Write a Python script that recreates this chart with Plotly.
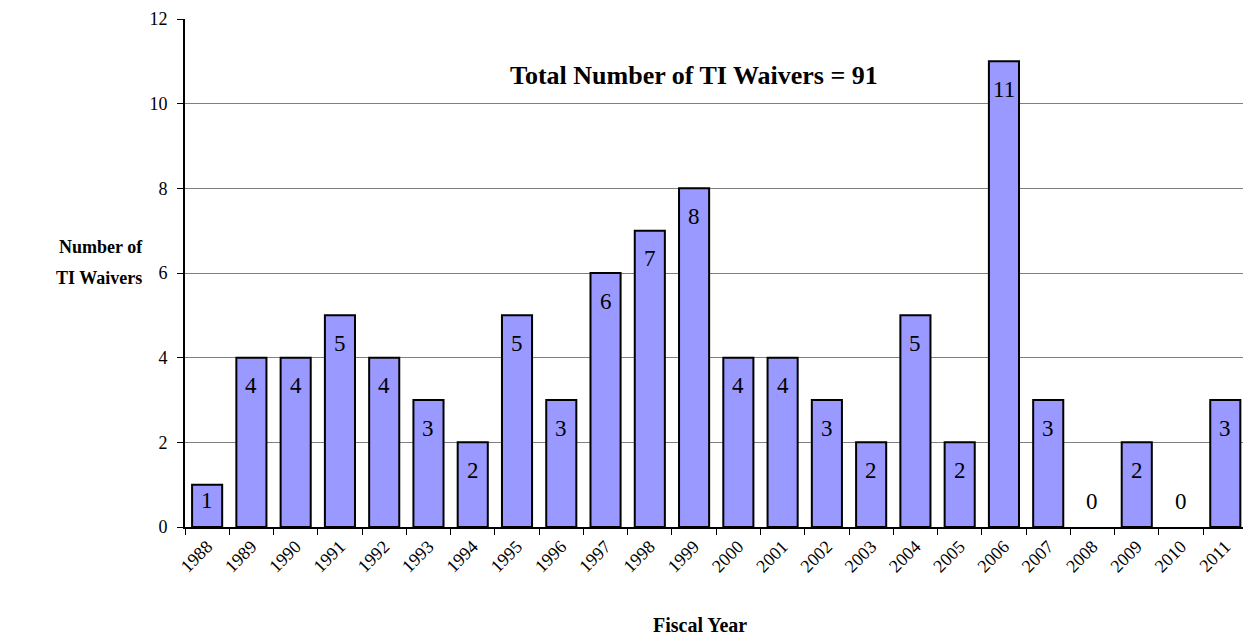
import plotly.graph_objects as go

years = [str(y) for y in range(1988, 2012)]
waivers = [1, 4, 4, 5, 4, 3, 2, 5, 3, 6, 7, 8, 4, 4, 3, 2, 5, 2, 11, 3, 0, 2, 0, 3]
y_ticks = [0, 2, 4, 6, 8, 10, 12]

FONT = "Liberation Serif, Times New Roman, serif"

fig = go.Figure()
fig.add_trace(go.Bar(
    x=years, y=waivers, width=0.68,
    marker=dict(color="#9999FF",
                line=dict(color="black", width=[2 if v > 0 else 0 for v in waivers])),
    hoverinfo="x+y",
))

for i, v in enumerate(waivers):
    if v == 0:
        shift = 26
    elif v == 1:
        shift = -16
    else:
        shift = -28
    fig.add_annotation(x=i, y=v, yshift=shift, text=str(v), showarrow=False,
                       font=dict(family=FONT, size=23, color="black"))

fig.add_annotation(xref="paper", yref="paper", x=0.4815, y=0.888,
                   xanchor="center", yanchor="middle",
                   text="<b>Total Number of TI Waivers = 91</b>", showarrow=False,
                   font=dict(family=FONT, size=26, color="black"))
fig.add_annotation(xref="paper", yref="paper", x=-0.0794, y=0.551,
                   xanchor="center", yanchor="middle",
                   text="<b>Number of</b>", showarrow=False,
                   font=dict(family=FONT, size=18, color="black"))
fig.add_annotation(xref="paper", yref="paper", x=-0.0813, y=0.490,
                   xanchor="center", yanchor="middle",
                   text="<b>TI Waivers</b>", showarrow=False,
                   font=dict(family=FONT, size=18, color="black"))
fig.add_annotation(xref="paper", yref="paper", x=0.487, y=-0.193,
                   xanchor="center", yanchor="middle",
                   text="<b>Fiscal Year</b>", showarrow=False,
                   font=dict(family=FONT, size=20, color="black"))

fig.update_layout(
    width=1243, height=638,
    margin=dict(l=185, r=0, t=19, b=111),
    paper_bgcolor="white", plot_bgcolor="white",
    showlegend=False,
    font=dict(family=FONT, color="black"),
)
fig.update_xaxes(
    type="category", range=[-0.5, 23.4],
    tickangle=-45, tickfont=dict(family=FONT, size=18, color="black"),
    showline=True, linecolor="black", linewidth=2,
    ticks="outside", ticklen=6, tickcolor="black", tickson="boundaries",
    showgrid=False,
)
fig.update_yaxes(
    range=[0, 12], tickvals=y_ticks, ticktext=[str(t) for t in y_ticks],
    tickfont=dict(family=FONT, size=18, color="black"),
    showline=True, linecolor="black", linewidth=2,
    ticks="outside", ticklen=6, tickcolor="black", ticklabelstandoff=6,
    showgrid=True, gridcolor="#808080", gridwidth=1, zeroline=False,
)

fig.write_html("out.html",
               post_script="document.body.style.margin='0';document.body.style.overflow='hidden';"
                           "var mb=document.querySelector('.modebar-container');if(mb){mb.style.display='none';}")
